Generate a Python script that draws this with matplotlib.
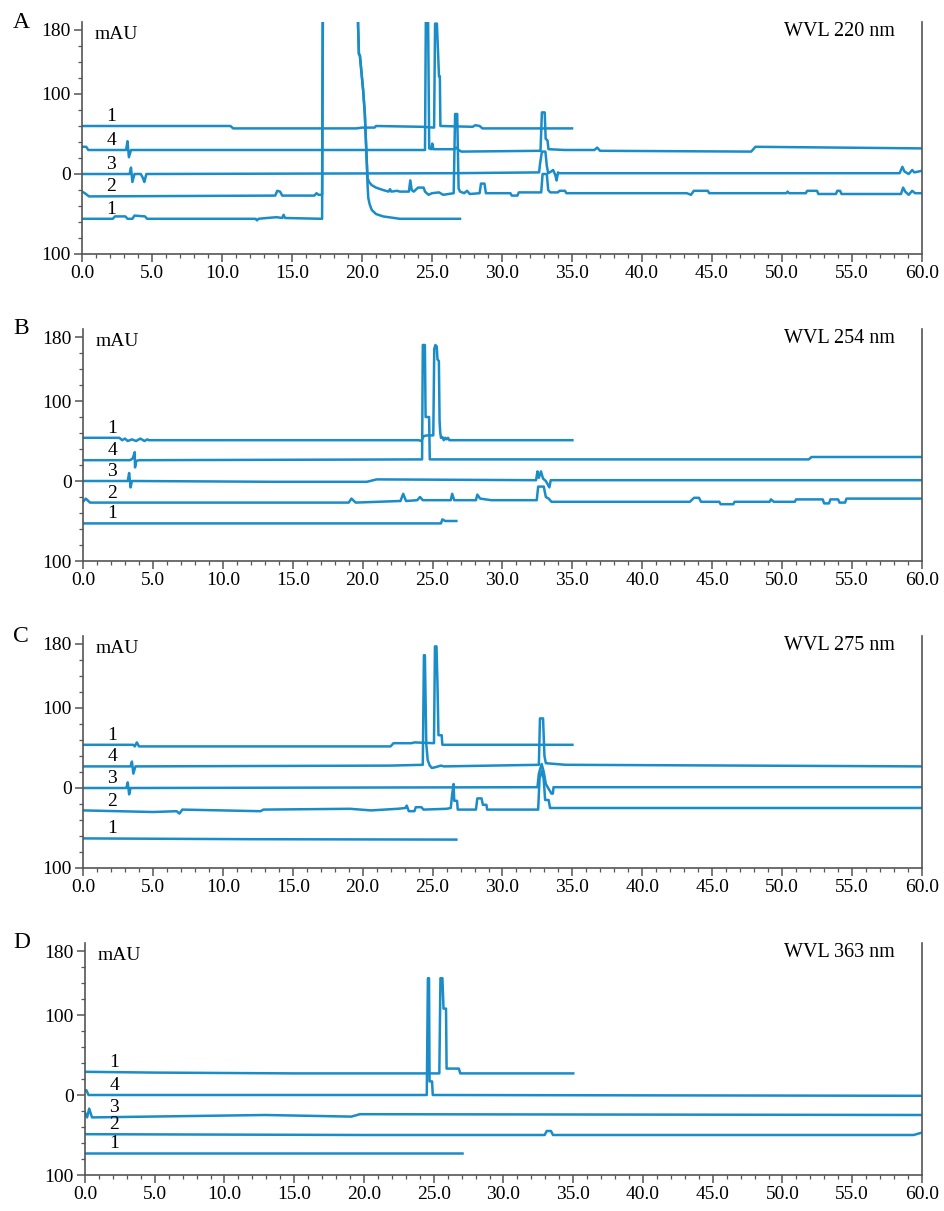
import matplotlib
matplotlib.use('Agg')
import matplotlib.pyplot as plt
import numpy as np
from matplotlib.ticker import MultipleLocator

# ---- data: retention time (min), signal (mAU, stacked traces) ----
wavelengths = ['WVL 220 nm', 'WVL 254 nm', 'WVL 275 nm', 'WVL 363 nm']
panel_letters = ['A', 'B', 'C', 'D']
trace_names = ['1', '4', '3', '2', '1']
x_ticks = [0, 5, 10, 15, 20, 25, 30, 35, 40, 45, 50, 55, 60]
y_ticks = [-100, 0, 100, 180]
y_tick_labels = ['100', '0', '100', '180']

# panel A, 220 nm
a_s1_top = [(0, 60), (10.6, 60), (10.8, 57), (19.6, 57), (20.0, 58), (20.9, 58), (21.0, 60),
            (24.3, 59), (25.15, 58), (25.22, 188), (25.35, 188), (25.5, 122), (25.56, 122),
            (25.6, 60), (27.9, 59), (28.1, 61), (28.4, 60), (28.6, 57), (35.0, 57)]
a_s4 = [(0, 34), (0.3, 34), (0.45, 30), (3.15, 30), (3.25, 41), (3.35, 21), (3.5, 30),
        (24.5, 30), (24.56, 195), (24.72, 195), (24.8, 32), (24.95, 31), (25.02, 38), (25.1, 31),
        (26.6, 31), (26.75, 33), (26.9, 30), (27.1, 28), (32.75, 29), (32.85, 77), (33.05, 77),
        (33.12, 44), (33.25, 42), (33.32, 31), (34.5, 30), (36.6, 30), (36.8, 33), (37.0, 29),
        (47.8, 28), (48.1, 34), (60, 32)]
a_s3 = [(0, 0), (3.4, 0), (3.5, 8), (3.6, -10), (3.75, 0), (4.2, 0), (4.35, -5), (4.45, -10),
        (4.6, 0), (26.6, 1), (32.65, 2), (32.72, 13), (32.85, 28), (33.1, 28), (33.2, 10),
        (33.3, 1), (33.5, 3), (33.65, 5), (33.8, -1), (33.9, -8), (34.0, 2), (34.1, 1),
        (58.4, 1), (58.6, 9), (58.75, 3), (59.05, 0), (59.3, 5), (59.45, 2), (60, 4)]
a_s2 = [(0, -22), (0.2, -24), (0.5, -28), (13.8, -27), (13.95, -21), (14.15, -22), (14.3, -27),
        (16.6, -27), (16.75, -24), (16.9, -26), (17.15, -26), (17.2, 250), (19.68, 250),
        (19.72, 185), (19.78, 150), (19.85, 148), (20.08, 105), (20.2, 76), (20.33, 20),
        (20.4, -5), (20.5, -10), (20.7, -14), (21.0, -17), (21.5, -20), (21.9, -22), (22.0, -19),
        (22.1, -22), (22.5, -21), (22.7, -22), (23.35, -22), (23.45, -8), (23.55, -20),
        (23.7, -22), (24.0, -17), (24.4, -17), (24.5, -22), (24.75, -26), (25.0, -24),
        (25.5, -23), (25.8, -26), (26.55, -24), (26.65, 75), (26.8, 75), (26.9, -18),
        (27.0, -22), (27.3, -24), (27.5, -21), (27.7, -25), (28.4, -24), (28.5, -12),
        (28.75, -12), (28.85, -24), (30.6, -24), (30.7, -27), (31.1, -27), (31.2, -23),
        (32.8, -23), (32.9, 0), (33.2, 0), (33.3, -20), (33.45, -23), (34.0, -23), (34.1, -21),
        (34.5, -21), (34.6, -24), (43.2, -24), (43.5, -26), (43.7, -21), (44.7, -21),
        (44.8, -24), (50.3, -24), (50.4, -22), (50.5, -24), (51.7, -24), (51.8, -21),
        (52.5, -21), (52.6, -25), (53.85, -25), (53.95, -21), (54.15, -21), (54.25, -25),
        (58.5, -25), (58.65, -17), (58.8, -22), (59.05, -26), (59.3, -21), (59.5, -24), (60, -24)]
a_s1_bot = [(0, -56), (2.2, -56), (2.35, -53), (3.1, -53), (3.25, -56), (3.6, -56), (3.75, -52),
            (4.5, -53), (4.65, -56), (12.4, -56), (12.5, -58), (12.6, -56), (13.2, -55),
            (13.9, -54), (14.3, -55), (14.4, -51), (14.5, -55), (17.15, -56), (17.22, 250),
            (19.68, 250), (19.72, 185), (19.78, 150), (19.85, 148), (20.08, 105), (20.2, 76),
            (20.33, 20), (20.4, -15), (20.45, -30), (20.55, -38), (20.7, -45), (21.0, -50),
            (21.5, -53), (22.7, -56), (27.0, -56)]

# panel B, 254 nm
b_s1_top = [(0, 54), (2.6, 54), (2.8, 51), (3.0, 53), (3.2, 50), (3.5, 52), (3.8, 50), (4.1, 53),
            (4.4, 50), (4.6, 52), (4.7, 51), (24.0, 51), (24.2, 50), (24.35, 56), (24.6, 57),
            (25.05, 57), (25.12, 165), (25.2, 170), (25.3, 168), (25.35, 152), (25.45, 150),
            (25.5, 75), (25.55, 60), (25.6, 54), (25.7, 55), (25.8, 51), (25.9, 54), (26.0, 52),
            (26.1, 54), (26.2, 51), (35.0, 51)]
b_s4 = [(0, 26), (3.35, 26), (3.55, 28), (3.7, 36), (3.72, 17), (3.8, 25), (4.0, 26),
        (24.25, 27), (24.3, 170), (24.45, 170), (24.5, 80), (24.75, 80), (24.8, 27),
        (51.9, 27), (52.1, 30), (60, 30)]
b_s3 = [(0, 0), (3.2, 0), (3.3, 10), (3.4, -8), (3.5, 0), (13.7, -1), (20.3, -1), (21.0, 2),
        (32.4, 1), (32.5, 12), (32.6, 4), (32.75, 12), (32.9, 3), (33.1, 0), (33.35, -8),
        (33.45, 1), (60, 1)]
b_s2 = [(0, -26), (0.2, -22), (0.5, -27), (19.0, -27), (19.2, -22), (19.5, -27), (22.7, -25),
        (22.9, -16), (23.1, -25), (23.9, -24), (24.1, -20), (24.3, -24), (25.0, -24),
        (26.3, -24), (26.4, -16), (26.55, -24), (28.1, -24), (28.2, -17), (28.4, -22),
        (29.2, -24), (32.45, -24), (32.55, -7), (32.95, -7), (33.1, -20), (33.3, -22),
        (33.5, -26), (43.4, -26), (43.7, -21), (44.05, -21), (44.2, -26), (45.5, -26),
        (45.6, -29), (46.5, -29), (46.6, -26), (49.1, -26), (49.2, -23), (49.4, -26),
        (50.9, -26), (51.0, -23), (52.9, -23), (53.0, -28), (53.35, -28), (53.45, -23),
        (54.0, -23), (54.1, -27), (54.5, -27), (54.6, -22), (60, -22)]
b_s1_bot = [(0, -53), (25.6, -53), (25.7, -48), (25.9, -50), (26.7, -50)]

# panel C, 275 nm
c_s1_top = [(0, 54), (3.6, 54), (3.7, 52), (3.85, 57), (4.0, 52), (22.0, 52), (22.2, 56),
            (23.5, 56), (23.7, 57), (25.1, 56), (25.17, 177), (25.28, 177), (25.35, 130),
            (25.42, 66), (25.65, 66), (25.7, 54), (35.0, 54)]
c_s4 = [(0, 27), (3.4, 27), (3.5, 33), (3.6, 18), (3.75, 27), (22, 28), (24.3, 29),
        (24.38, 166), (24.45, 166), (24.55, 55), (24.65, 35), (24.8, 28), (24.95, 25),
        (25.2, 26), (25.6, 28), (25.8, 27), (32.6, 29), (32.68, 87), (32.9, 87), (33.0, 40),
        (33.1, 31), (34.5, 29), (60, 27)]
c_s3 = [(0, 0), (3.1, 0), (3.2, 7), (3.3, -8), (3.4, 0), (32.5, 1), (32.6, 18), (32.8, 30),
        (32.95, 20), (33.1, 5), (33.5, -7), (33.6, -7), (33.65, 1), (60, 1)]
c_s2 = [(0, -28), (5.0, -30), (6.7, -29), (6.9, -32), (7.1, -27), (12.7, -29), (12.9, -27),
        (19.1, -26), (20.6, -28), (22.5, -26), (23.05, -25), (23.15, -22), (23.3, -29),
        (23.7, -29), (23.8, -24), (24.2, -24), (24.35, -27), (26.0, -26), (26.3, -25),
        (26.4, -8), (26.5, 5), (26.55, -16), (26.75, -16), (26.8, -27), (28.1, -27),
        (28.2, -13), (28.5, -13), (28.6, -21), (28.85, -21), (28.9, -27), (32.55, -27),
        (32.65, 12), (32.85, 22), (32.95, 10), (33.05, -15), (33.3, -15), (33.4, -25), (60, -25)]
c_s1_bot = [(0, -63), (12, -64), (26.7, -64.5)]

# panel D, 363 nm
d_s1_top = [(0, 29), (5, 28), (15, 27), (25.4, 27), (25.48, 146), (25.62, 146), (25.7, 108),
            (25.88, 108), (25.92, 33), (26.8, 33), (26.9, 27), (35.0, 27)]
d_s4 = [(0, 5), (0.1, 6), (0.25, 0), (24.5, 0), (24.58, 146), (24.66, 146), (24.7, 17),
        (24.88, 17), (24.93, 0), (60, -1)]
d_s3 = [(0, -22), (0.15, -28), (0.3, -17), (0.5, -28), (12.9, -25), (19.1, -27), (19.7, -24),
        (60, -25)]
d_s2 = [(0, -49), (20, -50), (32.95, -50), (33.1, -45), (33.4, -45), (33.55, -50),
        (59.4, -50), (60, -47)]
d_s1_bot = [(0, -73), (27.0, -73)]

panel_traces = [
    [a_s1_top, a_s4, a_s3, a_s2, a_s1_bot],
    [b_s1_top, b_s4, b_s3, b_s2, b_s1_bot],
    [c_s1_top, c_s4, c_s3, c_s2, c_s1_bot],
    [d_s1_top, d_s4, d_s3, d_s2, d_s1_bot],
]

# ---- layout (pixels of the 945x1211 figure) ----
W, H = 945, 1211
axes_left = [82, 83, 83, 85]
axes_zero = [174, 481, 788, 1095]
axes_right = 922
line_color = '#1a8cc8'
spine_color = '#555555'

plt.rcParams['font.family'] = ['Liberation Serif', 'DejaVu Serif']
fig = plt.figure(figsize=(W / 100, H / 100), dpi=100)

for i in range(4):
    left = axes_left[i]
    bottom = axes_zero[i] + 80
    ax = fig.add_axes([left / W, 1 - bottom / H, (axes_right - left) / W, 232 / H])

    for trace, name in zip(panel_traces[i], trace_names):
        xs = np.array([p[0] for p in trace])
        ys = np.array([p[1] for p in trace])
        ax.plot(xs, ys, color=line_color, lw=1.8)
        ax.text(2.1, np.interp(2.1, xs, ys) + 12, name, ha='center', va='center', fontsize=14)

    ax.set_xlim(0, 60)
    ax.set_ylim(-100, 190)
    ax.set_xticks(x_ticks)
    ax.set_xticklabels([f'{v:.1f}' for v in x_ticks])
    ax.set_yticks(y_ticks)
    ax.set_yticklabels(y_tick_labels)
    ax.xaxis.set_minor_locator(MultipleLocator(1))
    ax.yaxis.set_minor_locator(MultipleLocator(20))
    ax.tick_params(which='major', length=6, width=1.1, color=spine_color, labelsize=14, pad=2)
    ax.tick_params(which='minor', length=3, width=0.9, color=spine_color)

    ax.spines['top'].set_visible(False)
    for s in ['left', 'bottom', 'right']:
        ax.spines[s].set_color(spine_color)
        ax.spines[s].set_linewidth(1.2)

    ax.text(0.0155, 0.945, 'mAU', transform=ax.transAxes, fontsize=14, va='center')
    ax.text(0.968, 0.96, wavelengths[i], transform=ax.transAxes, fontsize=14.5,
            ha='right', va='center')
    fig.text(13 / W, 1 - (bottom - 232) / H, panel_letters[i], fontsize=17, va='center')

fig.savefig('out.png', dpi=100, facecolor='white')
